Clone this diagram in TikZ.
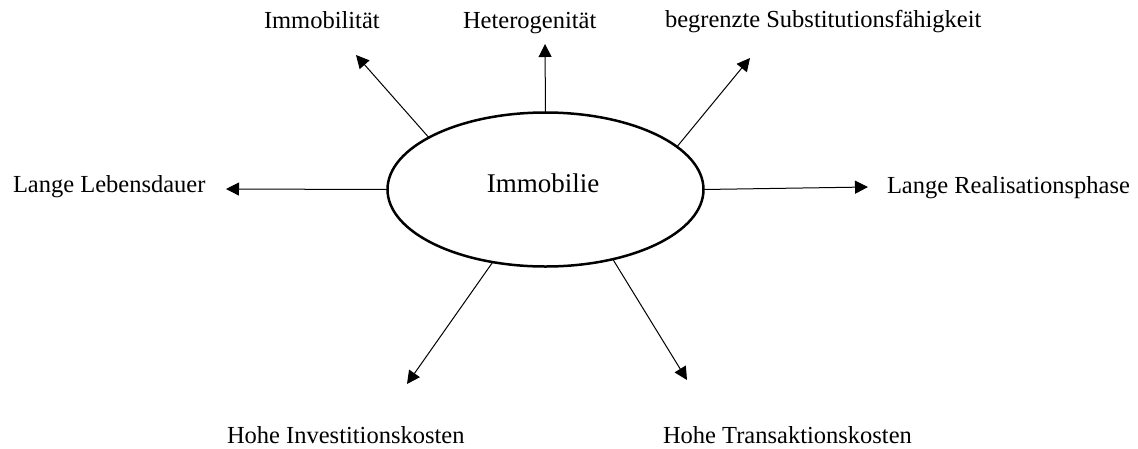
\documentclass[tikz,border=0pt]{standalone}
\usepackage{fontspec}
\setmainfont{Liberation Serif}
\usetikzlibrary{arrows.meta,shapes.geometric}
\tikzset{
  lbl/.style={anchor=base west,inner sep=0pt,outer sep=0pt,font=\fontsize{24.5pt}{29pt}\selectfont},
  centre/.style={ellipse,draw,line width=2.5pt,minimum width=316pt,minimum height=154pt,inner sep=0pt,outer sep=0pt},
  arr/.style={line width=1pt,-{Triangle[length=13pt,width=13pt]}}
}
\begin{document}
\begin{tikzpicture}[x=1pt,y=-1pt]
\useasboundingbox (0,0) rectangle (1138,448);
\node[centre] (c) at (545.5,189.5) {};
\node[anchor=base,inner sep=0pt,font=\fontsize{27pt}{32pt}\selectfont] (ct) at (543,192) {Immobilie};
\node[lbl] (l1) at (264,28) {Immobilität};
\node[lbl] (l2) at (463,28) {Heterogenität};
\node[lbl] (l3) at (665,27) {begrenzte Substitutionsfähigkeit};
\node[lbl] (l4) at (13,192) {Lange Lebensdauer};
\node[lbl] (l5) at (887,193) {Lange Realisationsphase};
\node[lbl] (l6) at (227,443) {Hohe Investitionskosten};
\node[lbl] (l7) at (663,443) {Hohe Transaktionskosten};
\coordinate (t1) at (356,55);
\coordinate (t2) at (545,44);
\coordinate (t3) at (750,58);
\coordinate (t4) at (226,189);
\coordinate (t5) at (868,187);
\coordinate (t6) at (407,384);
\coordinate (t7) at (687,380);
\draw[arr] (c.156) -- (t1);
\draw[arr] (c.90) -- (t2);
\draw[arr] (c.18) -- (t3);
\draw[arr] (c.180) -- (t4);
\draw[arr] (c.0) -- (t5);
\draw[arr] (c.234) -- (t6);
\draw[arr] (c.314) -- (t7);
\end{tikzpicture}
\end{document}
